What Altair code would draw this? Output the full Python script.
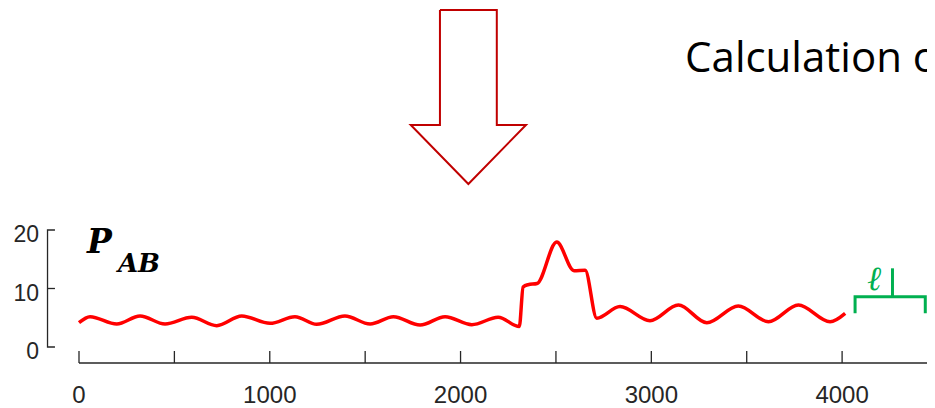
import altair as alt
import pandas as pd

# ---- series ----
sample = [0, 58, 198, 320, 451, 591, 722, 853, 1001, 1132, 1246, 1394, 1526, 1648,
          1788, 1919, 2059, 2197, 2308, 2328, 2354, 2401, 2504, 2595, 2653, 2714,
          2836, 2993, 3142, 3291, 3456, 3614, 3771, 3937, 4016]
pab = [4.15, 5.18, 3.93, 5.30, 3.93, 5.08, 3.64, 5.30, 4.05, 5.18, 3.88, 5.30, 3.93,
       5.18, 3.76, 5.18, 3.81, 5.08, 3.50, 10.26, 10.65, 10.85, 17.95, 13.04, 13.11,
       4.92, 6.92, 4.50, 7.18, 4.15, 7.01, 4.32, 7.18, 4.32, 5.76]

x_ticks = [0, 500, 1000, 1500, 2000, 2500, 3000, 3500, 4000]
x_labels = [0, 1000, 2000, 3000, 4000]
y_ticks = [0, 10, 20]
x_end = 4445

# annotation shapes (in data units)
arrow_x = [1892, 2190, 2190, 2343, 2041, 1739, 1892, 1892]
arrow_y = [57.6, 57.6, 37.95, 37.95, 27.86, 37.95, 37.95, 57.6]
brace_x = [4068, 4068, 4436, 4436]
brace_y = [5.76, 8.6, 8.6, 5.76]
y_axis_x = -165      # offset y-axis spine position (data units, left of 0)
y_tick_end = -126

xs = alt.Scale(domain=[0, x_end], nice=False, zero=False)
ys = alt.Scale(domain=[0, 20], nice=False, zero=False)
AXC = "#262626"


def X(f):
    return alt.X(f, type="quantitative", scale=xs, axis=None)


def Y(f):
    return alt.Y(f, type="quantitative", scale=ys, axis=None)


df = pd.DataFrame({"sample": sample, "pab": pab})

line = alt.Chart(df).mark_line(color="#ff0000", strokeWidth=3.5, interpolate="monotone").encode(
    x=X("sample"), y=Y("pab"))

# y axis drawn as a bracket path: spine with inward ticks at 20 and 0, plus tick at 10
yax_rows = {
    "px": [y_tick_end, y_axis_x, y_axis_x, y_tick_end, y_axis_x, y_tick_end],
    "py": [y_ticks[2], y_ticks[2], y_ticks[0], y_ticks[0], y_ticks[1], y_ticks[1]],
    "seg": [0, 0, 0, 0, 1, 1],
    "o": [0, 1, 2, 3, 0, 1],
}
y_axis_path = alt.Chart(pd.DataFrame(yax_rows)).mark_line(
    color=AXC, strokeWidth=1.3, strokeJoin="miter").encode(
    x=X("px"), y=Y("py"), detail="seg:N", order="o:Q")
y_lab = alt.Chart(pd.DataFrame({"yl": y_ticks})).mark_text(
    font="Liberation Sans", fontSize=23, color=AXC, align="right", baseline="alphabetic", dy=12).encode(
    y=Y("yl"), x=alt.value(-40), text="yl:N")

# x axis: spine, inward ticks, labels
x_spine = alt.Chart(pd.DataFrame({"x0": [0], "x1": [x_end]})).mark_rule(
    color=AXC, strokeWidth=1.3).encode(x=X("x0"), x2="x1:Q", y=alt.value(133))
x_tk = alt.Chart(pd.DataFrame({"xt": x_ticks})).mark_rule(color=AXC, strokeWidth=1.3).encode(
    x=X("xt"), y=alt.value(133), y2=alt.value(121))
x_lab = alt.Chart(pd.DataFrame({"xl": x_labels})).mark_text(
    font="Liberation Sans", fontSize=24, color=AXC, align="center", baseline="alphabetic").encode(
    x=X("xl"), y=alt.value(173), text="xl:N")

# arrow outline
arrow = alt.Chart(pd.DataFrame({"ax": arrow_x, "ay": arrow_y, "o": list(range(len(arrow_x)))})).mark_line(
    color="#c00000", strokeWidth=2, strokeJoin="miter").encode(
    x=X("ax"), y=Y("ay"), order="o:Q")


def label(txt, x, y, **kw):
    return alt.Chart(pd.DataFrame({"lx": [x], "ly": [y], "t": [txt]})).mark_text(**kw).encode(
        x=X("lx"), y=Y("ly"), text="t:N")


title_txt = label("Calculation of", 3177, 47.06, font="Open Sans", fontSize=42, color="black",
                  align="left", baseline="alphabetic")
p_txt = label("P", 42, 16.07, font="DejaVu Serif", fontSize=33, fontWeight="bold",
              fontStyle="italic", color="black", align="left", baseline="alphabetic")
ab_txt = label("AB", 204, 12.8, font="DejaVu Serif", fontSize=26, fontWeight="bold",
               fontStyle="italic", color="black", align="left", baseline="alphabetic")
ell = label("ℓ", 4168, 11.4, font="DejaVu Serif", fontSize=34, fontStyle="italic",
            color="#00b050", align="center", baseline="middle")

# green brace
brace = alt.Chart(pd.DataFrame({"bx": brace_x, "by": brace_y, "o": [0, 1, 2, 3]})).mark_line(
    color="#00b050", strokeWidth=3, strokeJoin="miter").encode(
    x=X("bx"), y=Y("by"), order="o:Q")
brace_tick = alt.Chart(pd.DataFrame({"tx": [4264], "b0": [8.6], "b1": [13.45]})).mark_rule(
    color="#00b050", strokeWidth=3).encode(x=X("tx"), y=Y("b0"), y2="b1:Q")

chart = alt.layer(line, y_axis_path, y_lab, x_spine, x_tk, x_lab, arrow, title_txt,
                  p_txt, ab_txt, brace, brace_tick, ell).properties(
    width=848, height=117,
    autosize=alt.AutoSizeParams(type="none"),
    padding={"left": 71, "top": 222, "right": 0, "bottom": 61},
    background="white",
).configure_view(stroke=None)

chart.save("out.html", embed_options={"renderer": "svg", "actions": False})
